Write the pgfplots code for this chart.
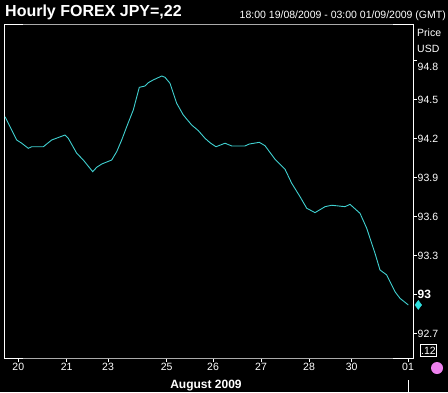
\documentclass[border=0pt]{standalone}
\usepackage{fontspec}
\setmainfont{Liberation Sans}
\usepackage{pgfplots}
\pgfplotsset{compat=1.18}
\definecolor{fx}{RGB}{64,208,208}
\definecolor{framegray}{RGB}{170,170,170}
\definecolor{pinkdot}{RGB}{238,130,238}
\begin{document}
\begin{tikzpicture}[x=1bp,y=1bp]
\fill[black] (0,0) rectangle (448,-392);
\useasboundingbox (0,0) rectangle (448,-392);
\node[anchor=base west, text=white, font=\fontsize{16bp}{18bp}\selectfont\bfseries, inner sep=0] at (5,-16) {Hourly FOREX JPY=,22};
\node[anchor=base east, text=white, font=\fontsize{10.5bp}{12bp}\selectfont, inner sep=0] at (446,-18.7) {18:00 19/08/2009 - 03:00 01/09/2009 (GMT)};
\node[anchor=west, text=white, font=\fontsize{10.5bp}{12bp}\selectfont, inner sep=0] at (417,-33) {Price};
\node[anchor=west, text=white, font=\fontsize{10.5bp}{12bp}\selectfont, inner sep=0] at (417,-48.5) {USD};
\begin{axis}[
  at={(4bp,-358bp)}, anchor=south west,
  scale only axis, width=409bp, height=334bp,
  xmin=4, xmax=413, ymin=92.513, ymax=95.082,
  axis line style={white, line width=1bp},
  tick align=outside, major tick length=3.5bp,
  tick style={white, line width=0.8bp},
  xtick pos=bottom, ytick pos=right, yticklabel pos=right,
  xtick={18.3,66.7,108,166.7,213,261,309,351.7,408},
  xticklabels={20,21,23,25,26,27,28,30,01},
  ytick={92.7,93,93.3,93.6,93.9,94.2,94.5},
  yticklabels={92.7,{\fontsize{12bp}{14bp}\selectfont\bfseries 93},93.3,93.6,93.9,94.2,94.5},
  extra y ticks={94.8}, extra y tick labels={94.8},
  extra y tick style={yticklabel style={yshift=-6bp}},
  /pgf/number format/assume math mode=true,
  xticklabel style={text=white, font=\fontsize{10.5bp}{12bp}\selectfont, inner sep=1bp},
  yticklabel style={text=white, font=\fontsize{10.5bp}{12bp}\selectfont, inner sep=1bp, anchor=west},
  clip=false,
]
\addplot[fx, line width=0.9bp] coordinates {
(5,94.369) (16.7,94.190) (21.7,94.165) (28.3,94.126) (31.7,94.138) (43.3,94.138)
(51.7,94.190) (65,94.228) (68.3,94.203) (76.7,94.088) (83.3,94.036) (92.7,93.946)
(96.7,93.980) (101.7,94.005) (111.7,94.036) (116.7,94.100) (121.7,94.190) (126.7,94.292)
(133.3,94.421) (139.3,94.595) (145,94.605) (148.3,94.631) (153.3,94.652) (161.7,94.682)
(165,94.672) (170,94.626) (176.7,94.472) (183.3,94.382) (191.7,94.305) (198.3,94.262)
(205,94.203) (210,94.169) (216,94.138) (225,94.165) (231.7,94.144) (245,94.144)
(249.3,94.159) (259.3,94.172) (265,94.146) (275,94.042) (285,93.965) (291.7,93.857)
(300,93.754) (306.7,93.665) (315,93.631) (325,93.677) (331.7,93.688) (345,93.677)
(350,93.695) (360,93.626) (366.7,93.511) (375,93.318) (380,93.190) (386.7,93.152)
(395,93.023) (400,92.972) (408.3,92.921)
};
\addplot[only marks, mark=diamond*, mark size=4.5bp, fx!80!cyan, mark options={fill=fx!70!cyan, draw=fx!70!cyan}] coordinates {(418.3,92.921)};
\end{axis}
\draw[framegray, line width=1bp] (23,-24) -- (393,-24);
\draw[framegray, line width=1bp] (23,-358) -- (393,-358);
\node[draw=white, line width=0.8bp, text=white, font=\fontsize{10.5bp}{12bp}\selectfont, inner sep=0.5bp, minimum width=16bp, minimum height=12bp] at (428.5,-350.5) {.12};
\fill[pinkdot] (437,-368) circle (6);
\draw[white, line width=1bp] (408.5,-380) -- (408.5,-392);
\node[anchor=base, text=white, font=\fontsize{12bp}{14bp}\selectfont\bfseries, inner sep=0] at (206,-388.3) {August 2009};
\end{tikzpicture}
\end{document}
